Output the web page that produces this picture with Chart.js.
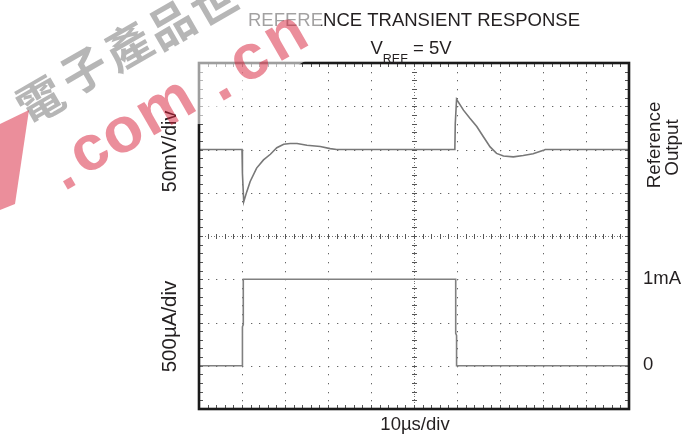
<!DOCTYPE html>
<html><head><meta charset="utf-8">
<script src="https://cdn.jsdelivr.net/npm/chart.js@4.4.0/dist/chart.umd.min.js"></script>
<style>html,body{margin:0;padding:0;background:#fff;}#wrap{width:700px;height:434px;position:relative;}</style>
</head><body><div id="wrap"><canvas id="c" width="700" height="434"></canvas></div>
<script>
// Time axis in divisions (10 µs/div), vertical axis in divisions (8 divisions, centre = 0)
const refOutputTime = [0, 1.0, 1.01, 1.04, 1.11, 1.19, 1.34, 1.50, 1.66, 1.81, 1.97, 2.12, 2.28, 2.51, 2.82, 3.05, 3.2,
                       5.95, 5.96, 5.99, 6.15, 6.30, 6.46, 6.61, 6.77, 6.92, 7.08, 7.31, 7.54, 7.77, 8.01, 8.05, 10];
const refOutputDiv  = [2, 2, 1.45, 0.79, 1.02, 1.26, 1.57, 1.76, 1.89, 2.04, 2.12, 2.14, 2.14, 2.10, 2.07, 2.02, 2.0,
                       2.0, 2.6, 3.16, 2.91, 2.72, 2.53, 2.30, 2.06, 1.91, 1.85, 1.83, 1.86, 1.90, 1.98, 2.0, 2.0];
const loadCurrentTime = [0, 1.01, 1.01, 1.03, 1.03, 5.97, 5.97, 5.99, 5.99, 10];
const loadCurrentDiv  = [-3, -3, -2.1, -2.05, -1, -1, -2.25, -2.3, -3, -3];
const currentLevelLabels = ['1mA', '0'];
const currentLevelDiv = [-1, -3];
const xDivisions = 10, yDivisions = 8, minorPerDiv = 5;

const toPts = (xs, ys) => xs.map((x, i) => ({x, y: ys[i]}));
const INK = '#231f20';

const scopePlugin = {
  id: 'scope',
  beforeDatasetsDraw(chart) {
    const {ctx, chartArea: a, scales: {x, y}} = chart;
    ctx.save();
    ctx.fillStyle = '#666';
    for (let i = 1; i < xDivisions; i++) {
      if (i === xDivisions / 2) continue;
      const px = Math.round(x.getPixelForValue(i));
      for (let j = 1; j < yDivisions * minorPerDiv; j++) {
        const py = Math.round(y.getPixelForValue(-4 + j / minorPerDiv));
        ctx.fillRect(px, py, 1, 1.3);
      }
    }
    for (let i = -3; i <= 3; i++) {
      if (i === 0) continue;
      const py = Math.round(y.getPixelForValue(i));
      for (let j = 1; j < xDivisions * minorPerDiv; j++) {
        const px = Math.round(x.getPixelForValue(j / minorPerDiv));
        ctx.fillRect(px, py, 1.3, 1);
      }
    }
    const cx = Math.round(x.getPixelForValue(5)), cy = Math.round(y.getPixelForValue(0));
    ctx.fillStyle = '#777';
    for (let py = a.top; py < a.bottom; py += 2.9) ctx.fillRect(cx, Math.round(py), 1, 1);
    for (let px = a.left; px < a.right; px += 2.9) ctx.fillRect(Math.round(px), cy, 1, 1);
    ctx.fillStyle = '#555';
    for (let j = 1; j < yDivisions * minorPerDiv; j++) {
      const py = Math.round(y.getPixelForValue(-4 + j / minorPerDiv));
      ctx.fillRect(cx - 2, py, 5, 1);
    }
    for (let j = 1; j < xDivisions * minorPerDiv; j++) {
      const px = Math.round(x.getPixelForValue(j / minorPerDiv));
      ctx.fillRect(px, cy - 2, 1, 5);
    }
    for (let j = 1; j < xDivisions * minorPerDiv; j++) {
      const px = Math.round(x.getPixelForValue(j / minorPerDiv));
      ctx.fillRect(px, a.top + 1, 1, 3);
      ctx.fillRect(px, a.bottom - 4, 1, 3);
    }
    for (let j = 1; j < yDivisions * minorPerDiv; j++) {
      const py = Math.round(y.getPixelForValue(-4 + j / minorPerDiv));
      ctx.fillRect(a.left + 1, py, 3, 1);
      ctx.fillRect(a.right - 4, py, 3, 1);
    }
    ctx.restore();
  },
  afterDatasetsDraw(chart) {
    const {ctx, chartArea: a, scales: {x, y}} = chart;
    ctx.save();
    ctx.strokeStyle = '#1a1a1a';
    ctx.lineWidth = 2.6;
    ctx.strokeRect(a.left, a.top, a.right - a.left, a.bottom - a.top);
    ctx.fillStyle = INK;
    const F = '"Liberation Sans", Arial, sans-serif';
    ctx.textAlign = 'center';
    ctx.textBaseline = 'alphabetic';
    ctx.font = '18.5px ' + F;
    ctx.fillText('REFERENCE TRANSIENT RESPONSE', 414, 26);
    const p1 = 'V', sub = 'REF', p2 = ' = 5V';
    ctx.font = '18.5px ' + F; const w1 = ctx.measureText(p1).width, w3 = ctx.measureText(p2).width;
    ctx.font = '12.5px ' + F; const w2 = ctx.measureText(sub).width;
    let sx = 411 - (w1 + w2 + w3) / 2;
    ctx.textAlign = 'left';
    ctx.font = '18.5px ' + F; ctx.fillText(p1, sx, 53.5);
    ctx.font = '12.5px ' + F; ctx.fillText(sub, sx + w1, 63);
    ctx.font = '18.5px ' + F; ctx.fillText(p2, sx + w1 + w2, 53.5);
    ctx.textAlign = 'center';
    ctx.fillText('10µs/div', 415, 430);
    ctx.textAlign = 'left';
    currentLevelLabels.forEach((t, i) => {
      const py = y.getPixelForValue(currentLevelDiv[i]);
      ctx.fillText(t, 643, py + 4.5);
    });
    const rot = (t, px, py, size) => {
      ctx.save(); ctx.translate(px, py); ctx.rotate(-Math.PI / 2);
      ctx.font = size + 'px ' + F; ctx.textAlign = 'center'; ctx.textBaseline = 'alphabetic';
      ctx.fillText(t, 0, 0); ctx.restore();
    };
    rot('50mV/div', 176, 151.5, 19.5);
    rot('500µA/div', 176, 326.5, 20.5);
    rot('Reference', 660, 145, 18.8);
    rot('Output', 678, 147.5, 18.8);
    ctx.restore();
  },
  afterDraw(chart) {
    const ctx = chart.ctx;
    ctx.save();
    const ang = -Math.PI / 6;
    ctx.fillStyle = 'rgba(255,255,255,0.58)';
    ctx.beginPath();
    ctx.moveTo(186, 0); ctx.lineTo(323, 0); ctx.lineTo(321, 30); ctx.lineTo(305, 61);
    ctx.lineTo(201, 124); ctx.lineTo(186, 124); ctx.closePath(); ctx.fill();
    const cjk = ['電', '子', '產', '品', '世'];
    const cjkPos = [[40, 100], [84, 70], [128, 46], [171, 24], [214, 2]];
    ctx.textAlign = 'center'; ctx.textBaseline = 'middle';
    ctx.font = 'bold 46px "Noto Sans CJK TC"';
    cjk.forEach((c, i) => {
      ctx.save(); ctx.translate(cjkPos[i][0], cjkPos[i][1]); ctx.rotate(ang);
      ctx.fillStyle = 'rgba(110,110,110,0.5)'; ctx.fillText(c, 0, 0); ctx.restore();
    });
    const red = ['.', 'c', 'o', 'm', '.', 'c', 'n'];
    const redPos = [[63, 172], [90, 152], [123, 134], [166, 108], [219, 83], [250, 61], [286, 38]];
    ctx.font = 'bold 64px "Liberation Sans", Arial, sans-serif';
    red.forEach((c, i) => {
      ctx.save(); ctx.translate(redPos[i][0], redPos[i][1]); ctx.rotate(ang);
      ctx.fillStyle = 'rgba(215,30,55,0.5)'; ctx.fillText(c, 0, 0);
      ctx.restore();
    });
    ctx.fillStyle = 'rgba(215,30,55,0.5)';
    ctx.beginPath(); ctx.moveTo(0, 124); ctx.lineTo(29, 110); ctx.lineTo(15, 204); ctx.lineTo(0, 210); ctx.closePath(); ctx.fill();
    ctx.restore();
  }
};

new Chart(document.getElementById('c'), {
  type: 'line',
  data: {
    datasets: [
      {label: 'Reference Output', data: toPts(refOutputTime, refOutputDiv), borderColor: '#787878', borderWidth: 1.6},
      {label: 'Load Current', data: toPts(loadCurrentTime, loadCurrentDiv), borderColor: '#808080', borderWidth: 1.6}
    ]
  },
  options: {
    responsive: false, animation: false, devicePixelRatio: 1,
    layout: {padding: {left: 199, top: 63, right: 71, bottom: 25}},
    elements: {point: {radius: 0}, line: {tension: 0, fill: false}},
    scales: {
      x: {type: 'linear', min: 0, max: xDivisions, display: false},
      y: {type: 'linear', min: -4, max: 4, display: false}
    },
    plugins: {legend: {display: false}, tooltip: {enabled: false}}
  },
  plugins: [scopePlugin]
});
</script></body></html>
